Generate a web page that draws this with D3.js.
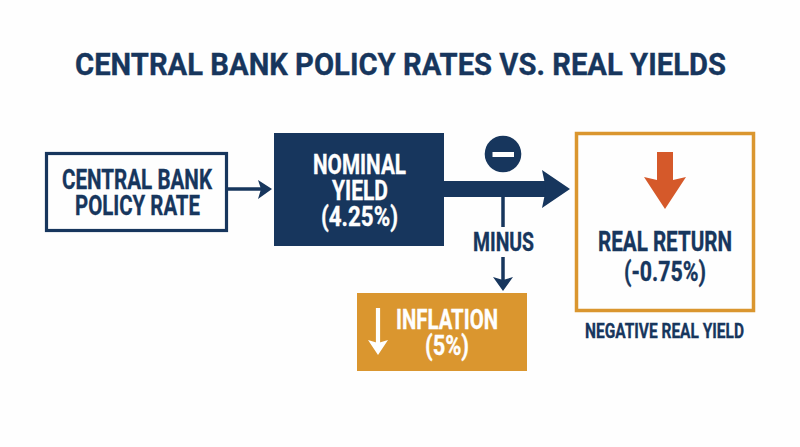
<!DOCTYPE html>
<html>
<head>
<meta charset="utf-8">
<script src="https://cdn.jsdelivr.net/npm/d3@7"></script>
<style>
    html, body { margin: 0; padding: 0; background: #fefefe; }
    svg { display: block; }
    text { font-family: Roboto, sans-serif; font-weight: 700; text-anchor: middle; stroke-width: 0.35; }
</style>
</head>
<body>
<script>
(function(d3) {
    'use strict';

    var title = 'CENTRAL BANK POLICY RATES VS. REAL YIELDS';
    var policyLabel = ['CENTRAL BANK', 'POLICY RATE'];
    var nominalLabel = ['NOMINAL', 'YIELD', '(4.25%)'];
    var inflationLabel = ['INFLATION', '(5%)'];
    var realLabel = ['REAL RETURN', '(-0.75%)'];
    var minusLabel = 'MINUS';
    var footLabel = 'NEGATIVE REAL YIELD';

    var navy = '#17365d';
    var orange = '#da962f';
    var red = '#d5592a';
    var white = '#fefefe';

    var svg = d3.select('body')
        .append('svg')
        .attr('width', 800)
        .attr('height', 447);

    var line = d3.line();

    // x0, x1 are the ink edges measured on the picture, the text gets squeezed to fit
    function label(str, x0, x1, baseline, size, color) {
        svg.append('text')
            .attr('x', (x0 + x1) / 2)
            .attr('y', baseline)
            .attr('font-size', size)
            .attr('fill', color)
            .attr('stroke', color)
            .attr('textLength', x1 - x0)
            .attr('lengthAdjust', 'spacingAndGlyphs')
            .text(str);
    }

    function box(x, y, w, h, fill, stroke, strokeWidth) {
        svg.append('rect')
            .attr('x', x)
            .attr('y', y)
            .attr('width', w)
            .attr('height', h)
            .attr('fill', fill)
            .attr('stroke', stroke || 'none')
            .attr('stroke-width', strokeWidth || 0);
    }

    function shape(points, color) {
        svg.append('path')
            .attr('d', line(points) + 'Z')
            .attr('fill', color);
    }

    function stem(x1, y1, x2, y2, width, color) {
        svg.append('line')
            .attr('x1', x1)
            .attr('y1', y1)
            .attr('x2', x2)
            .attr('y2', y2)
            .attr('stroke', color)
            .attr('stroke-width', width);
    }

    label(title, 75, 726, 74.5, 32, navy);

    // policy rate box and its arrow
    box(46.5, 153.5, 180, 77, white, navy, 3.2);
    label(policyLabel[0], 62, 212, 188.5, 27.5, navy);
    label(policyLabel[1], 75, 200, 214.5, 27.5, navy);
    stem(228, 189, 262, 189, 3.5, navy);
    shape([[258, 180], [272, 189], [258, 199], [261, 189]], navy);

    // nominal yield
    box(274, 133, 170, 113, navy);
    label(nominalLabel[0], 313, 406, 174, 27.5, white);
    label(nominalLabel[1], 332, 388, 200, 27.5, white);
    label(nominalLabel[2], 321, 398, 226, 27.5, white);

    // big arrow and the minus sign above it
    box(444, 181, 102, 16, navy);
    shape([[542, 170], [570, 189], [542, 208], [546, 189]], navy);
    svg.append('circle')
        .attr('cx', 503)
        .attr('cy', 154)
        .attr('r', 18.3)
        .attr('fill', navy);
    box(492.5, 152, 21.5, 5, white);

    // minus branch
    stem(503, 197, 503, 227, 3.5, navy);
    label(minusLabel, 473, 534, 250.5, 25.5, navy);
    stem(503, 257, 503, 282, 3.5, navy);
    shape([[493, 277], [503, 280], [513, 277], [503, 291]], navy);

    // inflation
    box(357, 293, 170, 78, orange);
    stem(378, 308, 378, 344, 4.2, white);
    shape([[368, 340], [378, 343], [388, 340], [378, 355]], white);
    label(inflationLabel[0], 396, 498, 329, 27.5, white);
    label(inflationLabel[1], 425, 469, 355, 27.5, white);

    // real return
    box(576.5, 133.5, 177, 177, white, orange, 3.5);
    shape([[657, 152], [673, 152], [673, 180], [686, 177], [665, 209], [644, 177], [657, 180]], red);
    label(realLabel[0], 598, 732, 250.5, 27, navy);
    label(realLabel[1], 624, 706, 281, 27, navy);
    label(footLabel, 585, 744, 338, 20, navy);

})(window.d3);
</script>
</body>
</html>
